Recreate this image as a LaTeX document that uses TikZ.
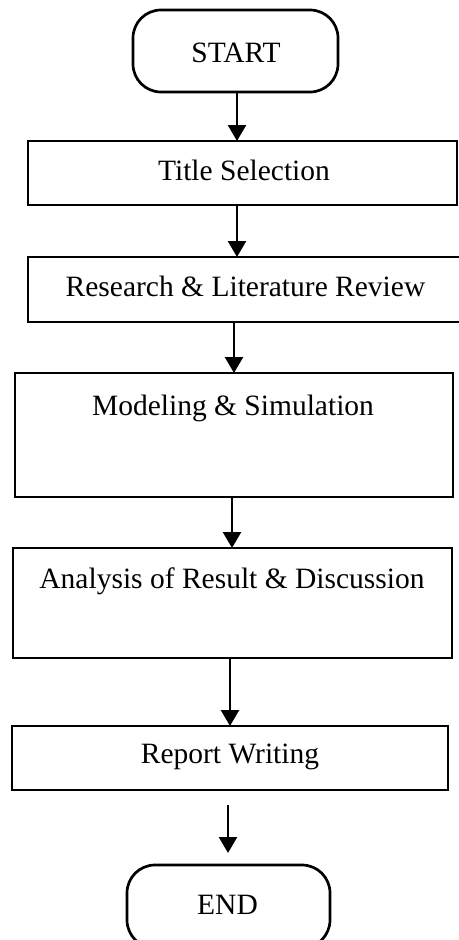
\documentclass[tikz,border=0pt]{standalone}
\usepackage{fontspec}
\setmainfont{Liberation Serif}
\usetikzlibrary{arrows.meta,calc}
\begin{document}
\begin{tikzpicture}[x=1pt,y=-1pt,
  box/.style={draw=black,line width=2.7pt,inner sep=0pt,outer sep=0pt},
  term/.style={box,rounded corners=28pt},
  txt/.style={font=\fontsize{29.5}{34}\selectfont,inner sep=0pt,anchor=base},
  arr/.style={line width=2.6pt,-{Triangle[width=18pt,length=16pt]}}]
\useasboundingbox (0,0) rectangle (458,940);
% shapes
\node[term,minimum width=205pt,minimum height=82pt] (start) at (235.5,51) {};
\node[box,minimum width=429pt,minimum height=64pt] (title) at (242.5,173) {};
\node[box,minimum width=434pt,minimum height=65pt] (res) at (245,289.5) {};
\node[box,minimum width=438pt,minimum height=124pt] (mod) at (234,435) {};
\node[box,minimum width=439pt,minimum height=110pt] (ana) at (232.5,603) {};
\node[box,minimum width=436pt,minimum height=64pt] (rep) at (230,758) {};
\node[term,minimum width=203pt,minimum height=83pt] (end) at (228.5,906.5) {};
% texts
\node[txt] (tstart) at (236,62) {START};
\node[txt] (ttitle) at (244,180) {Title Selection};
\node[txt] (tres) at (245.5,296) {Research \& Literature Review};
\node[txt] (tmod) at (233,415) {Modeling \& Simulation};
\node[txt] (tana) at (232,588) {Analysis of Result \& Discussion};
\node[txt] (trep) at (230,763) {Report Writing};
\node[txt] (tend) at (227.5,914) {END};
% arrows
\draw[arr] (start.south -| 237,0) -- (title.north -| 237,0);
\draw[arr] (title.south -| 237,0) -- (res.north -| 237,0);
\draw[arr] (res.south -| 234,0) -- (mod.north -| 234,0);
\draw[arr] (mod.south -| 232,0) -- (ana.north -| 232,0);
\draw[arr] (ana.south -| 230,0) -- (rep.north -| 230,0);
\draw[arr,shorten <=15pt,shorten >=12pt] (rep.south -| 228,0) -- (end.north -| 228,0);
\end{tikzpicture}
\end{document}
